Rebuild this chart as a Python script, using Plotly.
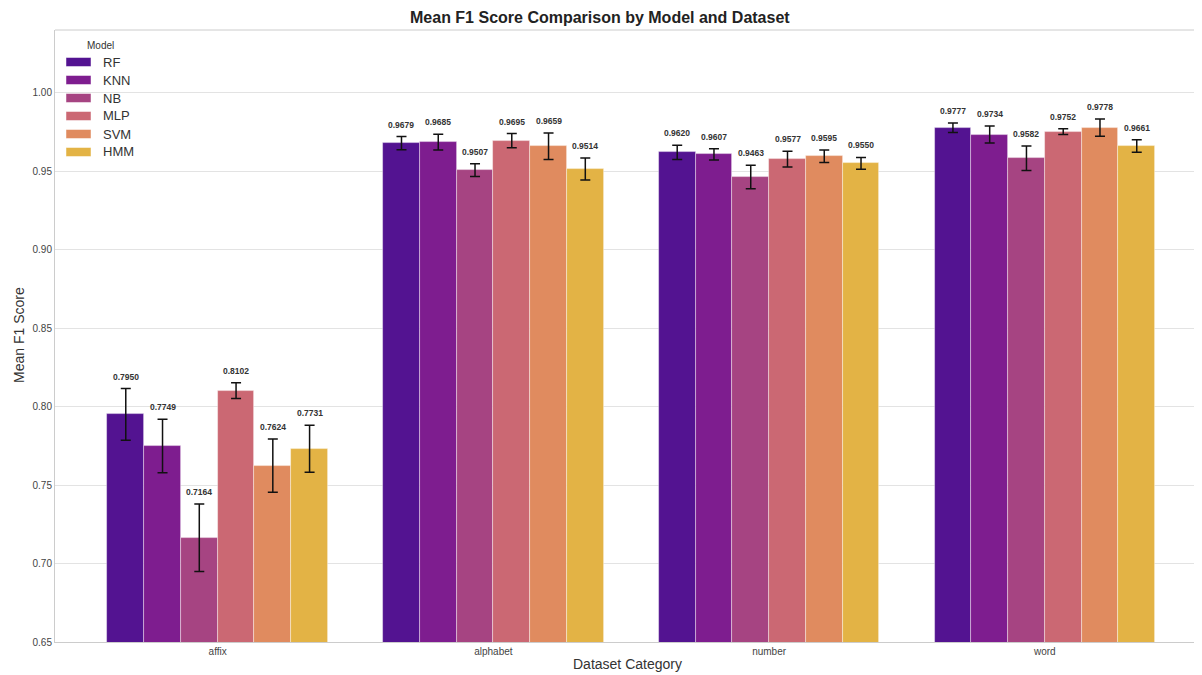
import plotly.graph_objects as go

categories = ["affix", "alphabet", "number", "word"]
models = ["RF", "KNN", "NB", "MLP", "SVM", "HMM"]
colors = ["#531391", "#7e1d8f", "#a64482", "#cb6873", "#e08b5f", "#e3b345"]

rf = [0.7950, 0.9679, 0.9620, 0.9777]
knn = [0.7749, 0.9685, 0.9607, 0.9734]
nb = [0.7164, 0.9507, 0.9463, 0.9582]
mlp = [0.8102, 0.9695, 0.9577, 0.9752]
svm = [0.7624, 0.9659, 0.9595, 0.9778]
hmm = [0.7731, 0.9514, 0.9550, 0.9661]

rf_err = [0.0165, 0.0042, 0.0045, 0.0030]
knn_err = [0.0170, 0.0050, 0.0036, 0.0054]
nb_err = [0.0215, 0.0040, 0.0075, 0.0078]
mlp_err = [0.0050, 0.0045, 0.0050, 0.0018]
svm_err = [0.0170, 0.0085, 0.0040, 0.0055]
hmm_err = [0.0150, 0.0070, 0.0038, 0.0040]

values = [rf, knn, nb, mlp, svm, hmm]
errors = [rf_err, knn_err, nb_err, mlp_err, svm_err, hmm_err]

# page body margin offsets the figure by 8px; target screen coords compensated
OFF = 8
W, H = 1202 - OFF, 675 - OFF
ML, MT = 55 - OFF, 30 - OFF
MB = H - (642 - OFF)
MR = 0
PW, PH = W - ML - MR, H - MT - MB


def px(xs_screen):
    return (xs_screen - OFF - ML) / PW


def py(ys_screen):
    return 1 - (ys_screen - OFF - MT) / PH


group_width = 0.8
bw = group_width / len(models)
font_fam = "Liberation Sans, Arial"

fig = go.Figure()
annotations = []
shapes = [dict(type="line", xref="paper", yref="paper", x0=0, x1=1, y0=1, y1=1,
               line=dict(color="#cccccc", width=1))]
for j, (m, vals, errs, c) in enumerate(zip(models, values, errors, colors)):
    xs = [i + (j - (len(models) - 1) / 2) * bw for i in range(len(categories))]
    fig.add_trace(go.Bar(
        x=xs, y=vals, width=bw, name=m, showlegend=False,
        marker=dict(color=c, line=dict(color="rgba(255,255,255,0.5)", width=0.8)),
        error_y=dict(type="data", array=errs, visible=True, color="#111111",
                     thickness=1.5, width=5),
    ))
    for x, v, e in zip(xs, vals, errs):
        annotations.append(dict(
            x=x, y=v + e, xref="x", yref="y", text=f"<b>{v:.4f}</b>",
            showarrow=False, yshift=12,
            font=dict(size=8.5, color="#333333", family=font_fam)))
    # custom legend entry
    yc = 62 + 18 * j
    shapes.append(dict(type="rect", xref="paper", yref="paper",
                       x0=px(66), x1=px(91), y0=py(yc - 4.5), y1=py(yc + 4.5),
                       fillcolor=c, line=dict(width=0.8, color="rgba(255,255,255,0.6)")))
    annotations.append(dict(x=px(101), y=py(yc), xref="paper", yref="paper",
                            text=m, showarrow=False, xanchor="left", yanchor="middle",
                            font=dict(size=13, color="#333333", family=font_fam)))

annotations.append(dict(x=px(85), y=py(45), xref="paper", yref="paper", text="Model",
                        showarrow=False, xanchor="left", yanchor="middle",
                        font=dict(size=10, color="#333333", family=font_fam)))
annotations.append(dict(x=px(600), y=py(17), xref="paper", yref="paper",
                        text="<b>Mean F1 Score Comparison by Model and Dataset</b>",
                        showarrow=False, xanchor="center", yanchor="middle",
                        font=dict(size=16, color="#222222", family=font_fam)))
annotations.append(dict(x=px(627), y=py(664), xref="paper", yref="paper",
                        text="Dataset Category", showarrow=False,
                        xanchor="center", yanchor="middle",
                        font=dict(size=14, color="#333333", family=font_fam)))
annotations.append(dict(x=px(19), y=py(335), xref="paper", yref="paper",
                        text="Mean F1 Score", showarrow=False, textangle=-90,
                        xanchor="center", yanchor="middle",
                        font=dict(size=14, color="#333333", family=font_fam)))

fig.update_layout(
    width=W, height=H,
    margin=dict(l=ML, r=MR, t=MT, b=MB, autoexpand=False),
    plot_bgcolor="white", paper_bgcolor="white",
    font=dict(family=font_fam, color="#333333"),
    bargap=0.0,
    showlegend=False,
    annotations=annotations,
    shapes=shapes,
)
fig.update_xaxes(
    range=[-0.59, 3.57], tickmode="array",
    tickvals=list(range(len(categories))), ticktext=categories,
    showgrid=False, showline=True, linecolor="#cccccc", mirror=False,
    ticks="", tickfont=dict(size=10, color="#444444"),
    automargin=False, zeroline=False,
)
fig.update_yaxes(
    range=[0.65, 1.04], tickmode="array",
    tickvals=[0.65, 0.70, 0.75, 0.80, 0.85, 0.90, 0.95, 1.00],
    tickformat=".2f", showgrid=True, gridcolor="#e3e3e3", gridwidth=1,
    showline=True, linecolor="#cccccc", mirror=False,
    ticks="", tickfont=dict(size=10, color="#444444"),
    automargin=False, zeroline=False,
)

fig.write_html("out.html")
